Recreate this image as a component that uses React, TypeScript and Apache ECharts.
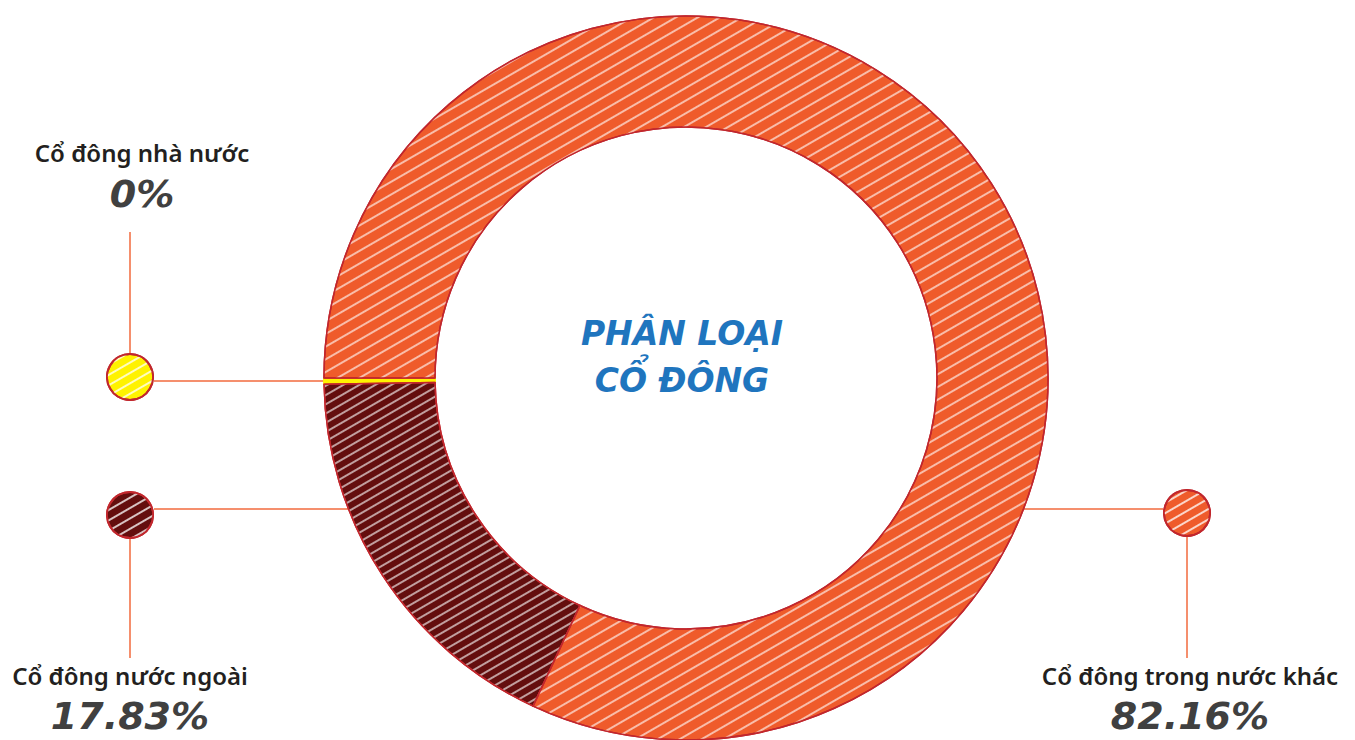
import React, { useEffect, useRef } from 'react';
import * as echarts from 'echarts';

const categories = ['Cổ đông nhà nước', 'Cổ đông nước ngoài', 'Cổ đông trong nước khác'];
const values = [0, 17.83, 82.16];
const valueLabels = ['0%', '17.83%', '82.16%'];
const colors = ['#FFF200', '#640E0E', '#EF5B2B'];
const titleLines = ['PHÂN LOẠI', 'CỔ ĐÔNG'];

const CX = 686;
const CY = 378;
const R_OUT = 362;
const R_IN = 251;
const BORDER = '#C1272D';
const LINE = '#F26A3D';

// marker layout for each category (positions only)
const markers = [
  { cx: 130, cy: 377, lineY: 381, side: 'left', labelY: 152, pctY: 194, textX: 142, vFrom: 232, vTo: 353 },
  { cx: 130, cy: 515, lineY: 509, side: 'left', labelY: 675, pctY: 716, textX: 130, vFrom: 539, vTo: 658 },
  { cx: 1187, cy: 513, lineY: 509, side: 'right', labelY: 675, pctY: 716, textX: 1190, vFrom: 537, vTo: 658 },
];

const hatch = (c: string, gap: number) => ({
  symbol: 'rect',
  symbolSize: 1,
  dashArrayX: [1, 0],
  dashArrayY: [1.5, gap],
  rotation: -Math.PI / 6,
  color: c,
});

export default function App() {
  const ref = useRef<HTMLDivElement>(null);
  useEffect(() => {
    document.body.style.margin = '0';
    const chart = echarts.init(ref.current!, null, { renderer: 'svg' });

    const graphics: any[] = [];
    markers.forEach((m, i) => {
      const dy = m.lineY - CY;
      const edgeX = Math.sqrt(R_OUT * R_OUT - dy * dy);
      const x1 = m.side === 'left' ? m.cx + 24 : CX + edgeX;
      const x2 = m.side === 'left' ? CX - edgeX : m.cx - 24;
      graphics.push({
        type: 'line',
        shape: { x1, y1: m.lineY, x2, y2: m.lineY },
        style: { stroke: LINE, lineWidth: 1.5 },
        z: 1,
      });
      graphics.push({
        type: 'line',
        shape: { x1: m.cx, y1: m.vFrom, x2: m.cx, y2: m.vTo },
        style: { stroke: LINE, lineWidth: 1.5 },
        z: 1,
      });
      graphics.push({
        type: 'text',
        x: m.textX,
        y: m.labelY,
        style: {
          text: categories[i],
          fill: '#231F20',
          font: '600 24px "Noto Sans"',
          align: 'center',
          verticalAlign: 'middle',
        },
      });
      graphics.push({
        type: 'text',
        x: m.textX,
        y: m.pctY,
        style: {
          text: valueLabels[i],
          fill: '#404040',
          font: 'italic bold 38px "DejaVu Sans"',
          align: 'center',
          verticalAlign: 'middle',
        },
      });
    });
    titleLines.forEach((t, i) => {
      graphics.push({
        type: 'text',
        x: CX - 4,
        y: 333 + i * 47,
        style: {
          text: t,
          fill: '#1F75BE',
          font: 'italic bold 33px "DejaVu Sans"',
          align: 'center',
          verticalAlign: 'middle',
        },
      });
    });

    const markerSeries = markers.map((m, i) => ({
      type: 'pie',
      center: [m.cx, m.cy],
      radius: [0, 23],
      silent: true,
      label: { show: false },
      labelLine: { show: false },
      emphasis: { disabled: true },
      z: 3,
      data: [
        {
          value: 1,
          name: categories[i],
          itemStyle: { color: colors[i], borderColor: BORDER, borderWidth: 2, decal: hatch('rgba(255,255,255,0.75)', 7) },
        },
      ],
    }));

    chart.setOption({
      animation: false,
      aria: { enabled: true, decal: { show: true } },
      graphic: graphics,
      series: [
        {
          type: 'pie',
          center: [CX, CY],
          radius: [R_IN, R_OUT],
          startAngle: 180,
          clockwise: false,
          minAngle: 1,
          silent: true,
          label: { show: false },
          labelLine: { show: false },
          emphasis: { disabled: true },
          z: 2,
          data: categories.map((c, i) => ({
            name: c,
            value: values[i],
            itemStyle:
              i === 0
                ? { color: colors[i], borderColor: colors[i], borderWidth: 1.5, decal: hatch('rgba(0,0,0,0)', 7) }
                : { color: colors[i], borderColor: BORDER, borderWidth: 1.5, decal: hatch('rgba(255,255,255,0.6)', i === 1 ? 6 : 9) },
          })),
        },
        ...markerSeries,
      ],
    });
    return () => chart.dispose();
  }, []);
  return <div ref={ref} style={{ width: 1355, height: 740 }} />;
}
